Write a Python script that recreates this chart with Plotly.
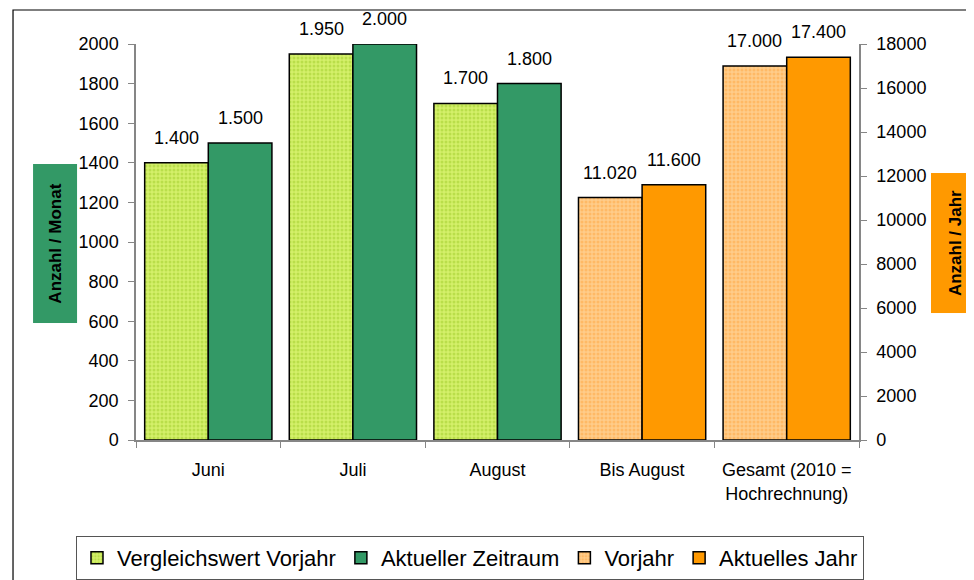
import plotly.graph_objects as go

# ---- data ----
categories = ["Juni", "Juli", "August", "Bis August", "Gesamt (2010 =<br>Hochrechnung)"]
month_cats = ["Juni", "Juli", "August"]
vergleich_vorjahr = [1400, 1950, 1700]
aktueller_zeitraum = [1500, 2000, 1800]
year_cats = ["Bis August", "Gesamt (2010 =<br>Hochrechnung)"]
vorjahr = [11020, 17000]
aktuelles_jahr = [11600, 17400]

left_ticks = list(range(0, 2001, 200))
right_ticks = list(range(0, 18001, 2000))

FONT = "Liberation Sans"
W = 0.44

def de(v):
    return f"{v:,}".replace(",", ".")

fig = go.Figure()

line = dict(color="black", width=1.5)
fig.add_trace(go.Bar(
    name="Vergleichswert Vorjahr", x=month_cats, y=vergleich_vorjahr,
    width=W, offset=-W,
    marker=dict(color="#d4f06a", line=line,
                pattern=dict(shape=".", fgcolor="#9fcc2a", bgcolor="#d4f06a", size=4, solidity=0.45)),
    yaxis="y"))
fig.add_trace(go.Bar(
    name="Aktueller Zeitraum", x=month_cats, y=aktueller_zeitraum,
    width=W, offset=0,
    marker=dict(color="#339966", line=line),
    yaxis="y"))
fig.add_trace(go.Bar(
    name="Vorjahr", x=year_cats, y=vorjahr,
    width=W, offset=-W,
    marker=dict(color="#ffcc8a", line=line,
                pattern=dict(shape=".", fgcolor="#ffa640", bgcolor="#ffcc8a", size=4, solidity=0.45)),
    yaxis="y2"))
fig.add_trace(go.Bar(
    name="Aktuelles Jahr", x=year_cats, y=aktuelles_jahr,
    width=W, offset=0,
    marker=dict(color="#ff9900", line=line),
    yaxis="y2"))

annotations = []
for i, (a, b) in enumerate(zip(vergleich_vorjahr, aktueller_zeitraum)):
    idx = categories.index(month_cats[i])
    for xv, v in ((idx - W / 2, a), (idx + W / 2, b)):
        annotations.append(dict(x=xv, y=v, xref="x", yref="y", text=de(v),
                                showarrow=False, yanchor="bottom", yshift=13,
                                font=dict(size=18, color="black", family=FONT)))
for i, (a, b) in enumerate(zip(vorjahr, aktuelles_jahr)):
    idx = categories.index(year_cats[i])
    for xv, v in ((idx - W / 2, a), (idx + W / 2, b)):
        annotations.append(dict(x=xv, y=v, xref="x", yref="y2", text=de(v),
                                showarrow=False, yanchor="bottom", yshift=13,
                                font=dict(size=18, color="black", family=FONT)))

annotations.append(dict(x=-0.1113, y=0.495, xref="paper", yref="paper",
                        xanchor="center", yanchor="middle",
                        text="<b>Anzahl / Monat</b>", textangle=-90, showarrow=False,
                        bgcolor="#339966", width=156, height=41,
                        font=dict(size=17, color="black", family=FONT)))
annotations.append(dict(x=1.1328, y=0.4962, xref="paper", yref="paper",
                        xanchor="center", yanchor="middle",
                        text="<b>Anzahl / Jahr</b>", textangle=-90, showarrow=False,
                        bgcolor="#ff9900", width=137, height=46,
                        font=dict(size=17, color="black", family=FONT)))

fig.update_layout(
    width=966, height=584,
    margin=dict(l=128, r=115, t=36, b=152),
    paper_bgcolor="white", plot_bgcolor="white",
    font=dict(family=FONT, size=18, color="black"),
    barmode="overlay",
    showlegend=True,
    legend=dict(orientation="h", x=-0.083, xanchor="left", y=-0.2424, yanchor="top",
                bordercolor="#555555", borderwidth=1, bgcolor="white",
                font=dict(size=22, family=FONT), itemwidth=30, traceorder="normal"),
    xaxis=dict(type="category", categoryorder="array", categoryarray=categories,
               range=[-0.5, 4.5], showline=True, linecolor="#868686", linewidth=1.5,
               ticks="outside", tickson="boundaries", ticklen=6, tickcolor="#868686",
               showgrid=False, tickfont=dict(size=18), ticklabelstandoff=13),
    yaxis=dict(range=[0, 2000], tickvals=left_ticks, tickformat="d",
               showline=True, linecolor="#868686", linewidth=1.5,
               ticks="outside", ticklen=6, tickcolor="#868686", showgrid=False,
               zeroline=False, tickfont=dict(size=18), ticklabelstandoff=6),
    yaxis2=dict(range=[0, 18000], tickvals=right_ticks, tickformat="d",
                overlaying="y", side="right",
                showline=True, linecolor="#868686", linewidth=1.5,
                ticks="outside", ticklen=6, tickcolor="#868686", showgrid=False,
                zeroline=False, tickfont=dict(size=18), ticklabelstandoff=6),
    annotations=annotations,
    shapes=[dict(type="rect", xref="paper", yref="paper",
                 x0=-0.1701, x1=1.2, y0=-0.5, y1=1.0859,
                 line=dict(color="black", width=1.2), fillcolor="rgba(0,0,0,0)",
                 layer="below")],
)

fig.write_html("out.html")
